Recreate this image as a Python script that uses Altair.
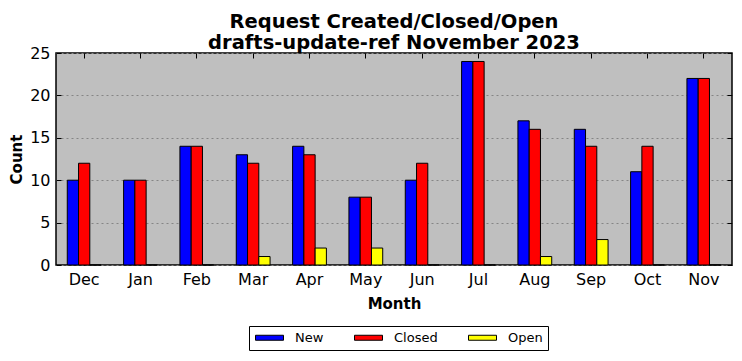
import altair as alt
import pandas as pd

months = ["Dec", "Jan", "Feb", "Mar", "Apr", "May", "Jun", "Jul", "Aug", "Sep", "Oct", "Nov"]
new_vals = [10, 10, 14, 13, 14, 8, 10, 24, 17, 16, 11, 22]
closed_vals = [12, 10, 14, 12, 13, 8, 12, 24, 16, 14, 14, 22]
open_vals = [0, 0, 0, 1, 2, 2, 0, 0, 1, 3, 0, 0]
series = ["New", "Closed", "Open"]
colors = ["#0000ff", "#ff0000", "#ffff00"]
y_ticks = [0, 5, 10, 15, 20, 25]

rows = []
for i, m in enumerate(months):
    for s, vals in zip(series, [new_vals, closed_vals, open_vals]):
        rows.append({"Month": m, "Series": s, "Count": vals[i]})
df = pd.DataFrame(rows)

FONT = "DejaVu Sans"

xscale = alt.Scale(domain=months, paddingInner=0.4, paddingOuter=0.2)
yscale = alt.Scale(domain=[0, 25], nice=False)
cscale = alt.Scale(domain=series, range=colors)
oscale = alt.Scale(domain=series, paddingInner=0, paddingOuter=0)

bars = alt.Chart(df).mark_bar(stroke="black", strokeWidth=1, opacity=1).encode(
    x=alt.X("Month:N", scale=xscale, sort=months,
            axis=alt.Axis(title="Month", orient="bottom", labelAngle=0, domain=False,
                          tickSize=5, offset=-5, tickColor="black", labelPadding=6,
                          labelFontSize=16, labelFont=FONT, labelColor="black",
                          titleFontSize=15, titleFont=FONT, titleFontWeight="bold",
                          titleColor="black", titlePadding=9, grid=False)),
    xOffset=alt.XOffset("Series:N", sort=series, scale=oscale),
    y=alt.Y("Count:Q", scale=yscale,
            axis=alt.Axis(title="Count", orient="left", values=y_ticks, domain=False,
                          tickSize=5, offset=-5, tickColor="black", labelPadding=6,
                          labelFontSize=16, labelFont=FONT, labelColor="black",
                          titleFontSize=15, titleFont=FONT, titleFontWeight="bold",
                          titleColor="black", titlePadding=5,
                          grid=True, gridColor="#858585", gridDash=[2, 3], gridWidth=1)),
    color=alt.Color("Series:N", scale=cscale, sort=series,
                    legend=alt.Legend(title=None, orient="none", direction="horizontal",
                                      legendX=193, legendY=273,
                                      symbolType="M-1,-0.5L4.6,-0.5L4.6,0.5L-1,0.5Z",
                                      symbolSize=100, symbolStrokeColor="black",
                                      symbolStrokeWidth=1, symbolOpacity=1,
                                      labelFont=FONT, labelFontSize=13, labelColor="black",
                                      labelOffset=28, columnPadding=28,
                                      strokeColor="black", fillColor="white", padding=5)),
)

frame = alt.Chart(df).mark_bar(opacity=0).encode(
    x=alt.X("Month:N", scale=xscale, sort=months,
            axis=alt.Axis(title=None, orient="top", labels=False, domain=False,
                          tickSize=5, offset=-5, tickColor="black", grid=False)),
    xOffset=alt.XOffset("Series:N", sort=series, scale=oscale),
    y=alt.Y("Count:Q", scale=yscale,
            axis=alt.Axis(title=None, orient="right", labels=False, values=y_ticks, domain=False,
                          tickSize=5, offset=-5, tickColor="black", grid=False)),
)

chart = alt.layer(bars, frame).resolve_axis(x="independent", y="independent").properties(
    width=676, height=212,
    background="white",
    title=alt.TitleParams(text=["Request Created/Closed/Open", "drafts-update-ref November 2023"],
                          fontSize=19.5, font=FONT, fontWeight="bold", color="black",
                          anchor="middle", lineHeight=21, offset=6, dy=14),
    autosize=alt.AutoSizeParams(type="none"),
    padding={"left": 48, "top": 45, "right": 2, "bottom": 86},
).configure_view(fill="#bfbfbf", stroke="black", strokeWidth=1.5)

chart.save("out.html", embed_options={"renderer": "svg", "actions": False})
